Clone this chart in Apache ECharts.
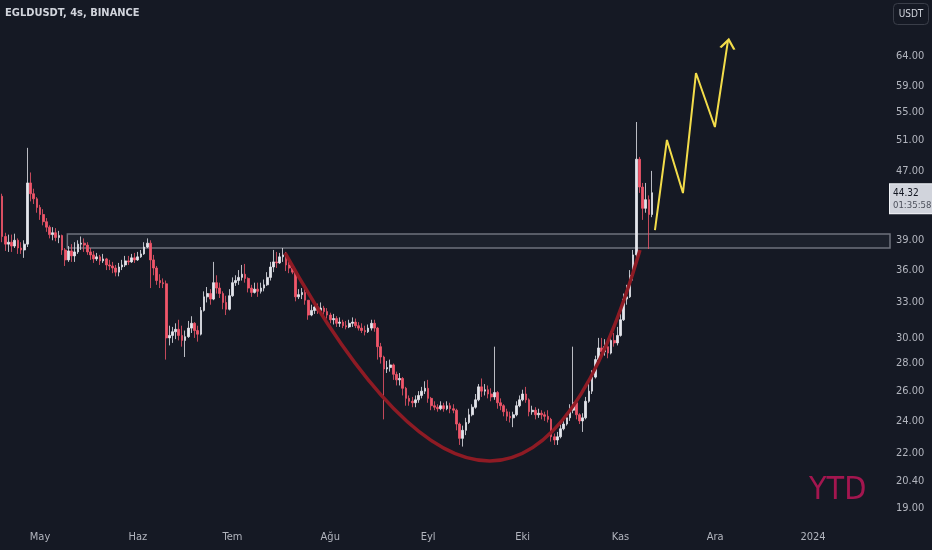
<!DOCTYPE html>
<html><head><meta charset="utf-8">
<script src="https://cdn.jsdelivr.net/npm/echarts@6/dist/echarts.min.js"></script>
<style>html,body{margin:0;padding:0;background:#151924;}#c{width:932px;height:550px;}</style>
</head><body><div id="c"></div>
<script>
// ---- data ----
const firstDay = '2023-04-18';           // one candle per day from here
// [open, close, low, high]
const candles = [
 // Apr 18-30
 [43.4,43.9,43.0,44.5],[43.9,39.4,38.8,44.2],[39.4,38.6,37.9,39.8],[38.6,38.8,37.8,39.6],[38.8,38.4,37.8,39.6],[38.4,39.0,38.2,39.7],[39.0,38.2,37.6,39.2],[38.2,38.0,37.6,38.8],[38.0,38.6,37.2,39.0],[38.6,45.5,38.3,50.0],[45.5,44.2,43.3,46.8],[44.2,43.6,43.0,44.8],[43.6,42.6,42.0,43.8],
 // May
 [42.6,41.8,41.2,42.9],[41.8,41.0,40.6,42.4],[41.0,40.4,39.9,41.4],[40.4,39.6,39.2,40.6],[39.6,39.8,39.0,40.4],[39.8,39.3,38.9,40.3],[39.3,39.5,38.7,40.0],[39.5,38.0,37.5,39.6],[38.0,37.0,36.4,38.2],[37.0,37.9,36.8,38.4],
 [37.9,37.4,36.8,38.6],[37.4,37.8,36.8,38.8],[37.8,38.6,37.6,39.0],[38.6,38.7,38.0,39.4],[38.7,38.5,37.8,39.2],[38.5,37.8,37.5,38.8],[37.8,37.5,37.0,38.2],[37.5,37.1,36.7,37.9],[37.1,37.3,36.9,37.7],[37.3,36.9,36.5,37.5],
 [36.9,37.1,36.7,37.6],[37.1,36.5,36.0,37.2],[36.5,36.4,36.0,37.0],[36.4,36.2,35.7,36.8],[36.2,35.8,35.4,36.5],[35.8,36.3,35.4,36.7],[36.3,36.5,36.0,37.0],[36.5,36.9,36.3,37.4],[36.9,36.8,36.5,37.4],[36.8,37.2,36.7,37.6],[37.2,37.0,36.7,37.7],
 // Jun
 [37.0,37.3,36.9,37.8],[37.3,37.6,37.2,38.0],[37.6,38.3,37.5,38.8],[38.3,38.7,38.2,39.2],[38.7,37.0,34.3,39.0],[37.0,36.2,35.5,37.5],[36.2,35.0,34.6,36.4],[35.0,34.8,34.3,35.6],[34.8,34.7,34.3,35.2],[34.7,30.0,28.3,35.0],
 [30.0,30.2,29.4,31.0],[30.2,30.5,29.6,30.9],[30.5,30.7,29.9,31.2],[30.7,30.2,29.8,31.5],[30.2,29.8,29.3,31.0],[29.8,30.1,28.5,30.6],[30.1,30.8,30.0,31.4],[30.8,31.2,30.4,31.8],[31.2,30.6,30.0,31.3],[30.6,30.3,29.7,31.0],
 [30.3,32.3,30.2,32.6],[32.3,33.5,32.2,34.0],[33.5,33.8,33.0,34.4],[33.8,33.3,32.8,34.2],[33.3,34.8,33.2,36.8],[34.8,34.3,33.8,35.5],[34.3,33.8,33.4,34.8],[33.8,33.0,32.4,34.0],[33.0,32.4,31.9,33.6],[32.4,33.6,32.3,34.2],
 // Jul
 [33.6,34.8,33.5,35.3],[34.8,35.0,34.5,35.5],[35.0,35.3,34.6,36.0],[35.3,35.6,35.0,36.5],[35.6,35.2,34.8,36.6],[35.2,34.3,33.9,35.3],[34.3,33.9,33.5,34.6],[33.9,34.2,33.8,34.8],[34.2,34.0,33.5,34.8],[34.0,34.3,33.8,34.8],
 [34.3,34.6,34.0,35.1],[34.6,35.3,34.5,35.8],[35.3,36.3,35.0,36.8],[36.3,36.8,35.8,38.0],[36.8,36.7,36.2,37.8],[36.7,37.3,36.6,37.7],[37.3,37.5,36.8,38.2],[37.5,36.5,35.9,37.8],[36.5,36.2,35.7,36.8],[36.2,35.8,35.6,36.5],
 [35.8,33.5,33.1,35.9],[33.5,33.7,33.3,34.2],[33.7,33.9,33.3,34.3],[33.9,33.2,32.8,34.3],[33.2,31.9,31.5,33.2],[31.9,32.3,31.8,32.8],[32.3,32.6,32.0,33.0],[32.6,32.3,32.0,32.9],[32.3,32.5,32.1,33.0],[32.5,32.2,31.8,32.7],[32.2,31.9,31.6,32.5],
 // Aug
 [31.9,31.5,31.2,32.1],[31.5,31.6,31.1,32.0],[31.6,31.2,30.9,31.8],[31.2,31.3,30.9,31.7],[31.3,31.0,30.8,31.5],[31.0,30.9,30.7,31.4],[30.9,31.2,30.8,31.5],[31.2,31.3,30.9,31.7],[31.3,31.0,30.8,31.6],[31.0,30.8,30.6,31.3],
 [30.8,30.6,30.4,31.2],[30.6,30.5,30.2,31.0],[30.5,30.8,30.4,31.1],[30.8,31.2,30.6,31.5],[31.2,30.8,30.5,31.5],[30.8,29.3,28.3,30.9],[29.3,28.5,28.0,29.6],[28.5,27.6,24.1,28.6],[27.6,27.7,27.3,28.2],[27.7,27.9,27.4,28.3],
 [27.9,27.2,26.8,28.0],[27.2,26.8,26.4,27.4],[26.8,26.9,26.4,27.3],[26.9,26.2,25.7,27.0],[26.2,25.5,25.0,26.3],[25.5,25.3,25.0,25.7],[25.3,25.2,24.9,25.6],[25.2,25.4,24.9,25.7],[25.4,25.7,25.2,26.0],[25.7,26.0,25.5,26.3],[26.0,26.2,25.8,26.7],
 // Sep
 [26.2,25.5,25.2,26.8],[25.5,25.0,24.7,25.6],[25.0,24.9,24.7,25.3],[24.9,24.8,24.6,25.1],[24.8,25.0,24.7,25.3],[25.0,24.8,24.6,25.2],[24.8,25.0,24.7,25.3],[25.0,24.8,24.5,25.2],[24.8,24.7,24.5,25.1],[24.7,23.8,23.4,24.8],
 [23.8,22.9,22.5,23.9],[22.9,23.4,22.4,23.7],[23.4,23.9,23.1,24.2],[23.9,24.4,23.8,24.8],[24.4,24.9,24.3,25.1],[24.9,25.4,24.8,25.8],[25.4,26.3,25.3,26.5],[26.3,26.0,25.6,26.9],[26.0,26.1,25.7,26.5],[26.1,25.8,25.5,26.4],
 [25.8,25.6,25.3,26.2],[25.6,25.9,25.4,29.3],[25.9,25.2,24.8,26.0],[25.2,25.0,24.7,25.5],[25.0,24.6,24.3,25.1],[24.6,24.3,24.0,24.8],[24.3,24.2,23.9,24.6],[24.2,24.4,23.6,24.6],[24.4,25.0,24.3,25.3],[25.0,25.4,24.9,25.7],
 // Oct
 [25.4,25.8,25.3,26.1],[25.8,25.4,25.2,26.3],[25.4,24.6,24.3,25.5],[24.6,24.7,24.4,25.0],[24.7,24.4,24.1,24.9],[24.4,24.5,24.2,24.8],[24.5,24.4,24.1,24.7],[24.4,24.3,24.0,24.6],[24.3,24.1,23.9,24.7],[24.1,23.0,22.7,24.2],
 [23.0,22.8,22.5,23.2],[22.8,23.0,22.5,23.3],[23.0,23.5,22.9,23.8],[23.5,23.8,23.4,24.1],[23.8,24.2,23.7,24.5],[24.2,24.7,24.0,25.1],[24.7,25.2,24.5,29.3],[25.2,24.4,24.1,25.3],[24.4,24.0,23.8,24.5],[24.0,24.2,23.3,24.5],
 [24.2,25.3,24.1,25.6],[25.3,26.0,25.2,26.5],[26.0,27.0,25.8,27.5],[27.0,28.3,26.9,28.6],[28.3,29.2,28.2,30.0],[29.2,28.9,28.4,30.0],[28.9,29.3,28.6,29.9],[29.3,28.8,28.4,29.7],[28.8,29.8,28.7,30.5],[29.8,29.6,29.3,30.4],[29.6,30.2,29.4,30.9],
 // Nov 1-11
 [30.2,31.5,30.1,32.0],[31.5,33.3,31.4,33.8],[33.3,33.5,32.8,34.6],[33.5,35.5,33.4,36.0],[35.5,37.5,35.0,38.0],[37.5,48.5,37.2,53.6],[48.5,45.0,44.3,48.8],[45.0,42.5,41.2,45.5],[42.5,43.5,42.0,45.5],[43.5,41.8,38.1,44.0],[41.8,44.32,41.5,47.0]
];
const lastPrice = 44.32;
const countdown = '01:35:58';

// cup drawn as a curve: [start, control point, end] as [time, price]
const cupCurve = [
 ['2023-07-17T16:00Z', 37.7], ['2023-09-29T08:00Z', 12.27], ['2023-11-07T04:00Z', 38.0]
];
// projected zig-zag path [time, price]
const projection = [
 ['2023-11-11T22:00Z',40.09],['2023-11-15T17:00Z',51.07],['2023-11-20T19:00Z',44.28],
 ['2023-11-24T22:00Z',61.14],['2023-11-30T22:00Z',52.88],['2023-12-05T02:00Z',66.81]
];
// resistance zone
const zoneStart = '2023-05-09T16:00Z';
const zoneLow = 38.19, zoneHigh = 39.66;

const xMin = '2023-04-18T07:40Z', xMax = '2024-01-25T10:00Z';
const yMin = 18.29, yMax = 74.4;
const yTicks = [19, 20.4, 22, 24, 26, 28, 30, 33, 36, 39, 47, 51, 55, 59, 64];
const monthTicks = ['2023-05-01','2023-06-01','2023-07-01','2023-08-01','2023-09-01','2023-10-01','2023-11-01','2023-12-01','2024-01-01'];
const monthLabels = ['May','Haz','Tem','Ağu','Eyl','Eki','Kas','Ara','2024'];

// ---- build ----
const T = s => Date.parse(s.length === 10 ? s + 'T00:00Z' : s);
const DAY = 86400000;
const t0 = T(firstDay);
const candleData = candles.map((c, i) => [t0 + i * DAY, c[0], c[1], c[2], c[3]]);
const tickTimes = monthTicks.map(T);
const cupData = cupCurve.map(p => [T(p[0]), p[1]]);
const FONT = "'Liberation Sans Narrow', 'DejaVu Sans Condensed', 'Roboto Condensed', Roboto, sans-serif";
const projData = projection.map((p, i) => {
  const v = [T(p[0]), p[1]];
  if (i === projection.length - 1) {
    return { value: v, symbol: 'path://M0,10 L6,0 L12,10', symbolSize: [14, 9], symbolRotate: -8.5,
      symbolOffset: [0, '45%'], itemStyle: { color: 'none', borderColor: '#f2dc4a', borderWidth: 2 } };
  }
  return { value: v };
});

const chart = echarts.init(document.getElementById('c'), null, { renderer: 'canvas' });
chart.setOption({
  animation: false,
  backgroundColor: '#151924',
  grid: { left: 0, right: 42, top: 0, bottom: 28 },
  xAxis: {
    type: 'value', min: T(xMin), max: T(xMax), scale: true,
    axisLine: { show: false }, axisTick: { show: false }, splitLine: { show: false },
    axisLabel: {
      customValues: tickTimes, color: '#b2b5be', fontSize: 11, fontFamily: FONT, margin: 10, hideOverlap: false,
      formatter: v => { const i = tickTimes.indexOf(v); return i >= 0 ? monthLabels[i] : ''; }
    }
  },
  yAxis: {
    type: 'log', position: 'right', min: yMin, max: yMax,
    axisLine: { show: false }, axisTick: { show: false }, splitLine: { show: false },
    axisLabel: { customValues: yTicks, color: '#b2b5be', fontSize: 11, fontFamily: FONT, margin: 6, align: 'left',
      formatter: v => Number(v).toFixed(2) }
  },
  series: [
    {
      type: 'candlestick', data: candleData, encode: { x: 0, y: [1, 2, 3, 4] },
      barWidth: 2.2,
      itemStyle: { color: '#e4e6ec', color0: '#f0566a', borderColor: '#e4e6ec', borderColor0: '#f0566a', borderWidth: 0.8 },
      markArea: {
        silent: true,
        itemStyle: { color: 'rgba(120,123,134,0.08)', borderColor: '#6e717c', borderWidth: 1.5 },
        data: [[{ xAxis: T(zoneStart), yAxis: zoneHigh }, { xAxis: T(xMax), yAxis: zoneLow }]]
      }
    },
    {
      type: 'custom', data: cupData, encode: { x: 0, y: 1 }, z: 3, silent: true,
      renderItem: (params, api) => {
        if (params.dataIndex !== 0) return null;
        const p = cupData.map(d => api.coord(d));
        return {
          type: 'bezierCurve',
          shape: { x1: p[0][0], y1: p[0][1], cpx1: p[1][0], cpy1: p[1][1], x2: p[2][0], y2: p[2][1] },
          style: { stroke: '#8e1b24', lineWidth: 3.5, fill: null }
        };
      }
    },
    {
      type: 'line', data: projData, symbol: 'none', showSymbol: true,
      lineStyle: { color: '#f2dc4a', width: 2 }, z: 4,
      markLine: {
        silent: true, symbol: ['none', 'none'], animation: false,
        lineStyle: { width: 0, color: 'rgba(0,0,0,0)' },
        data: [{ yAxis: lastPrice }],
        label: {
          show: true, position: 'end', distance: 0, offset: [0, 6],
          formatter: '{p|' + lastPrice.toFixed(2) + '}\n{t|' + countdown + '}',
          backgroundColor: '#d1d4dc', borderColor: '#f0f2f6', borderWidth: 1, padding: [3, 2, 2, 3],
          rich: {
            p: { color: '#131722', fontSize: 10, lineHeight: 12, fontFamily: FONT },
            t: { color: '#4c505b', fontSize: 9.5, lineHeight: 12, fontFamily: FONT }
          }
        }
      }
    }
  ],
  graphic: [
    { type: 'text', left: 5, top: 8, style: { text: 'EGLDUSDT, 4s, BINANCE', fill: '#d1d4dc', font: '600 11px ' + FONT } },
    { type: 'rect', shape: { x: 893.5, y: 3.5, width: 35, height: 21, r: 4 }, style: { fill: 'none', stroke: '#3a3e49', lineWidth: 1 } },
    { type: 'text', x: 911, y: 14, style: { text: 'USDT', fill: '#d1d4dc', font: '10px ' + FONT, align: 'center', verticalAlign: 'middle' } },
    { type: 'text', x: 809, y: 491, style: { text: 'YTD', fill: '#a3164f', font: '32px ' + FONT, verticalAlign: 'middle' } }
  ]
});
</script>
</body></html>
